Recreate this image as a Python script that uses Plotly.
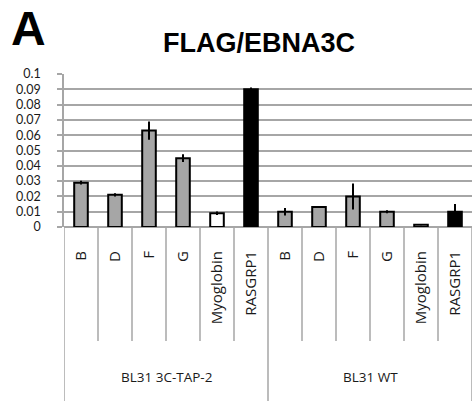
import plotly.graph_objects as go

groups = ["BL31 3C-TAP-2", "BL31 WT"]
targets = ["B", "D", "F", "G", "Myoglobin", "RASGRP1"]
tap_values = [0.029, 0.021, 0.063, 0.045, 0.009, 0.090]
tap_err = [0.0012, 0.0010, 0.0060, 0.0025, 0.0012, 0.0012]
wt_values = [0.010, 0.013, 0.020, 0.010, 0.0015, 0.010]
wt_err = [0.0025, 0.0003, 0.0085, 0.0010, 0.0004, 0.0050]
target_colors = ["#a6a6a6", "#a6a6a6", "#a6a6a6", "#a6a6a6", "#ffffff", "#000000"]
y_ticks = [0, 0.01, 0.02, 0.03, 0.04, 0.05, 0.06, 0.07, 0.08, 0.09, 0.1]
y_ticktext = ["0", "0.01", "0.02", "0.03", "0.04", "0.05", "0.06", "0.07", "0.08", "0.09", "0.1"]

values = tap_values + wt_values
errs = tap_err + wt_err
labels = targets + targets
colors = target_colors + target_colors
xs = list(range(len(values)))

GRID = "#a6a6a6"
TXT = "#1a1a1a"

fig = go.Figure()
fig.add_trace(go.Bar(
    x=xs, y=values, width=0.4,
    marker=dict(color=colors, line=dict(color="#000000", width=2)),
    error_y=dict(type="data", array=errs, color="#000000", thickness=2, width=0, visible=True),
    showlegend=False, hoverinfo="skip",
))

shapes = []
n = len(values)
# dividers below the axis
for i in range(n + 1):
    xb = i - 0.5
    outer = (i % len(targets) == 0)
    shapes.append(dict(type="line", xref="x", yref="paper", x0=xb, x1=xb,
                       y0=0, y1=-1.15 if outer else -0.745,
                       line=dict(color=GRID, width=1.5)))

annotations = []
for gi, g in enumerate(groups):
    annotations.append(dict(xref="x", yref="paper", x=gi * len(targets) + (len(targets) - 1) / 2,
                            y=-0.98, text=g, showarrow=False,
                            font=dict(family="Open Sans", size=13.5, color=TXT),
                            xanchor="center", yanchor="middle"))
annotations.append(dict(xref="paper", yref="paper", x=-0.088, y=1.30, text="<b>A</b>",
                        showarrow=False, font=dict(family="Liberation Sans", size=48, color="#000000"),
                        xanchor="center", yanchor="middle"))

fig.update_layout(
    width=472, height=401,
    margin=dict(l=64, r=0, t=74, b=174, autoexpand=False),
    plot_bgcolor="white", paper_bgcolor="white",
    title=dict(text="<b>FLAG/EBNA3C</b>", x=0.549, y=0.893, xanchor="center", yanchor="middle",
               font=dict(family="Liberation Sans", size=27, color="#000000")),
    shapes=shapes, annotations=annotations,
    xaxis=dict(range=[-0.5, n - 0.5], tickmode="array", tickvals=xs, ticktext=labels,
               tickangle=-90, showgrid=False, zeroline=False, showline=False, ticks="",
               ticklabelstandoff=20, automargin=False,
               tickfont=dict(family="Open Sans", size=15, color=TXT)),
    yaxis=dict(range=[0, 0.1], tickmode="array", tickvals=y_ticks, ticktext=y_ticktext,
               showgrid=True, gridcolor=GRID, gridwidth=1.5,
               zeroline=True, zerolinecolor=GRID, zerolinewidth=1.5,
               showline=True, linecolor=GRID, linewidth=1.5,
               ticks="outside", ticklen=5, tickcolor=GRID, tickwidth=1.5,
               ticklabelstandoff=14, automargin=False,
               tickfont=dict(family="Lato", size=12.5, color=TXT)),
)

fig.write_html("out.html", config={"displayModeBar": False},
               post_script="document.body.style.margin='0';document.body.style.overflow='hidden';")
